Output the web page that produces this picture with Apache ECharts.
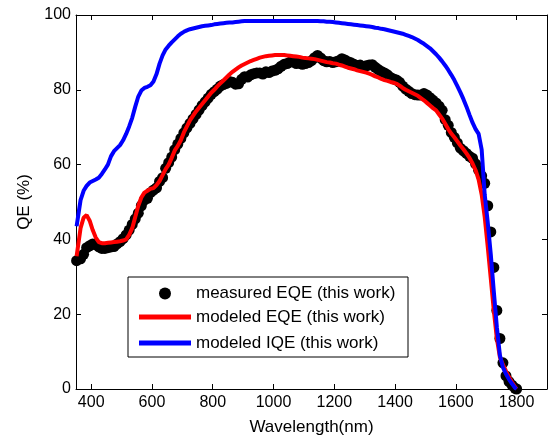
<!DOCTYPE html>
<html>
<head>
<meta charset="utf-8">
<script src="https://cdn.jsdelivr.net/npm/echarts@6/dist/echarts.min.js"></script>
<style>
html,body{margin:0;padding:0;background:#fff;}
#chart{width:548px;height:437px;}
</style>
</head>
<body>
<div id="chart"></div>
<script>
// Wavelength (nm)
var wavelength = [
352,
365,375,385,395,405,415,425,435,445,455,
465,475,485,495,505,515,525,535,545,555,
565,575,585,595,605,615,625,635,645,655,
665,675,685,695,705,715,725,735,745,755,
765,775,785,795,805,815,825,835,845,855,
865,875,885,895,905,915,925,935,945,955,
965,975,985,995,1005,1015,1025,1035,1045,1055,
1065,1075,1085,1095,1105,1115,1125,1135,1145,1155,
1165,1175,1185,1195,1205,1215,1225,1235,1245,1255,
1265,1275,1285,1295,1305,1315,1325,1335,1345,1355,
1365,1375,1385,1395,1405,1415,1425,1435,1445,1455,
1465,1475,1485,1495,1505,1515,1525,1535,1545,1555,
1565,1575,1585,1595,1605,1615,1625,1635,1645,1655,
1665,1675,1685,1695,1705,1715,1725,1735,1745,1755,
1765,1775,1785,1795,
1800
];
// measured EQE (%)
var measuredEQE = [
34.3,
34.8,36.0,37.8,38.3,38.8,38.6,38.0,37.6,37.6,37.8,
38.0,38.1,38.8,39.4,40.2,41.2,42.5,44.0,45.5,47.0,
49.0,50.5,51.0,52.5,53.2,53.8,55.5,56.5,59.0,60.5,
62.0,64.0,65.5,67.0,68.5,69.8,71.0,72.2,73.4,74.6,
75.8,76.8,77.8,78.8,79.5,80.2,81.0,81.4,81.7,82.2,
82.0,81.5,81.6,82.8,83.5,83.4,84.0,84.3,84.5,84.5,
84.2,84.8,84.6,85.0,85.2,85.6,86.3,86.8,87.0,87.4,
87.5,87.0,87.2,86.8,87.0,87.3,87.8,88.6,89.2,88.5,
87.8,87.5,87.6,87.3,87.5,87.8,88.3,88.0,87.5,87.2,
86.8,86.5,86.6,86.2,86.4,86.6,86.7,86.0,85.4,84.9,
84.5,84.0,83.3,82.9,82.6,82.0,81.0,80.2,79.6,79.0,
78.7,78.6,78.6,79.0,78.6,77.9,77.2,76.5,75.6,74.5,
72.0,70.5,68.6,67.3,65.8,64.4,63.7,63.0,62.2,61.7,
60.2,58.5,57.0,55.0,49.0,42.0,32.5,21.0,13.5,7.0,
3.5,2.0,1.0,0.2,
0
];
// modeled EQE (%)
var modeledEQE = [
35.5,
43.0,45.8,46.5,45.0,42.5,40.5,39.3,39.0,39.0,39.1,
39.2,39.3,39.4,39.5,39.7,40.0,41.2,43.0,46.0,49.0,
51.2,52.5,53.0,53.5,53.7,54.5,55.6,57.2,58.8,60.0,
61.8,63.8,65.0,66.5,68.6,70.2,71.8,73.0,74.2,75.2,
76.2,77.2,78.2,79.2,80.0,80.9,81.7,82.5,83.3,84.1,
84.8,85.4,86.0,86.5,86.9,87.3,87.7,88.0,88.3,88.6,
88.8,89.0,89.1,89.2,89.3,89.3,89.3,89.3,89.2,89.1,
89.0,88.9,88.8,88.6,88.5,88.4,88.3,88.2,88.0,87.8,
87.6,87.4,87.3,87.1,87.0,86.7,86.5,86.2,85.9,85.7,
85.5,85.2,85.0,84.8,84.6,84.3,84.0,83.6,83.3,82.9,
82.6,82.4,82.1,81.9,81.6,81.1,80.5,80.0,79.6,79.2,
78.8,78.4,77.8,77.2,76.5,75.8,75.1,74.5,73.4,72.3,
70.9,69.5,68.3,67.3,66.2,65.1,64.1,63.0,61.8,60.3,
58.5,56.0,52.0,46.0,38.0,29.5,21.0,13.5,8.5,6.5,
4.8,3.2,1.8,0.5,
0
];
// modeled IQE (%)
var modeledIQE = [
43.5,
50.5,53.0,54.3,55.2,55.6,56.0,56.5,57.5,58.7,60.0,
62.2,63.6,64.4,65.2,66.5,68.2,70.2,72.5,75.5,78.2,
79.8,80.5,80.8,81.2,82.2,84.2,87.0,89.2,90.8,91.8,
92.7,93.5,94.3,95.0,95.5,95.9,96.2,96.4,96.6,96.8,
97.0,97.1,97.2,97.3,97.5,97.6,97.7,97.8,97.9,98.0,
98.0,98.1,98.2,98.3,98.4,98.4,98.4,98.4,98.4,98.4,
98.4,98.4,98.4,98.4,98.4,98.4,98.4,98.4,98.4,98.4,
98.4,98.4,98.4,98.4,98.4,98.4,98.4,98.4,98.4,98.3,
98.3,98.2,98.2,98.1,98.0,97.9,97.8,97.7,97.6,97.5,
97.4,97.3,97.2,97.1,97.0,96.9,96.8,96.6,96.5,96.3,
96.2,96.0,95.8,95.6,95.4,95.2,95.0,94.7,94.4,94.1,
93.7,93.3,92.8,92.3,91.7,91.1,90.3,89.5,88.6,87.6,
86.5,85.3,84.0,82.6,81.0,79.3,77.5,75.5,73.3,71.2,
69.5,68.2,64.0,52.0,44.5,36.0,26.0,16.5,9.0,5.8,
4.0,2.6,1.4,0.3,
0
];
var xTicks = [400,600,800,1000,1200,1400,1600,1800];
var yTicks = [0,20,40,60,80,100];
var seriesNames = ['measured EQE (this work)','modeled EQE (this work)','modeled IQE (this work)'];

function pairs(xs, ys){ return xs.map(function(x,i){ return [x, ys[i]]; }); }

var FONT = 'Liberation Sans, Arial, sans-serif';
var chart = echarts.init(document.getElementById('chart'), null, {renderer:'canvas'});
var axisLineStyle = {color:'#000', width:1};
var option = {
  animation:false,
  backgroundColor:'#fff',
  grid:{left:76, right:1, top:15, bottom:48, containLabel:false, outerBoundsMode:'none'},
  xAxis:[{
    type:'value', min:350, max:1900, position:'bottom',
    name:'Wavelength(nm)', nameLocation:'middle', nameGap:30,
    nameTextStyle:{color:'#000', fontSize:17, fontFamily:FONT},
    axisLine:{show:true, lineStyle:axisLineStyle},
    axisTick:{show:true, inside:true, length:5, lineStyle:axisLineStyle, customValues:xTicks},
    axisLabel:{color:'#000', fontSize:16, fontFamily:FONT, margin:6, customValues:xTicks,
      formatter:function(v){ return String(v); }},
    splitLine:{show:false}
  },{
    type:'value', min:350, max:1900, position:'top',
    axisLine:{show:true, onZero:false, lineStyle:axisLineStyle},
    axisTick:{show:true, inside:true, length:5, lineStyle:axisLineStyle, customValues:xTicks},
    axisLabel:{show:false},
    splitLine:{show:false}
  }],
  yAxis:[{
    type:'value', min:0, max:100, interval:20, position:'left',
    name:'QE (%)', nameLocation:'middle', nameGap:43, nameRotate:90,
    nameTextStyle:{color:'#000', fontSize:17, fontFamily:FONT},
    axisLine:{show:true, lineStyle:axisLineStyle},
    axisTick:{show:true, inside:true, length:5, lineStyle:axisLineStyle},
    axisLabel:{color:'#000', fontSize:16, fontFamily:FONT, margin:5},
    splitLine:{show:false}
  },{
    type:'value', min:0, max:100, interval:20, position:'right',
    axisLine:{show:true, onZero:false, lineStyle:axisLineStyle},
    axisTick:{show:true, inside:true, length:5, lineStyle:axisLineStyle},
    axisLabel:{show:false},
    splitLine:{show:false}
  }],
  legend:[{
    data:[{name:seriesNames[0], icon:'circle'}],
    left:159, top:285, padding:0, z:10,
    itemWidth:52, itemHeight:12,
    textStyle:{color:'#000', fontSize:17, fontFamily:FONT, lineHeight:16},
    selectedMode:false
  },{
    data:[{name:seriesNames[1], icon:'rect'},{name:seriesNames[2], icon:'rect'}],
    orient:'vertical', left:139, top:308.5, padding:0, itemGap:9, z:10,
    itemWidth:52, itemHeight:5,
    textStyle:{color:'#000', fontSize:17, fontFamily:FONT, lineHeight:16},
    selectedMode:false
  }],
  graphic:[{
    type:'rect', z:8,
    shape:{x:128, y:277, width:280, height:80},
    style:{fill:'#fff', stroke:'#000', lineWidth:1}
  }],
  series:[{
    name:seriesNames[0], type:'scatter', data:pairs(wavelength, measuredEQE),
    symbol:'circle', symbolSize:11, itemStyle:{color:'#000', opacity:1}, z:2, clip:false
  },{
    name:seriesNames[1], type:'line', data:pairs(wavelength, modeledEQE),
    showSymbol:false, symbol:'none', lineStyle:{color:'#ff0000', width:4}, itemStyle:{color:'#ff0000'}, z:3
  },{
    name:seriesNames[2], type:'line', data:pairs(wavelength, modeledIQE),
    showSymbol:false, symbol:'none', lineStyle:{color:'#0000ff', width:4}, itemStyle:{color:'#0000ff'}, z:4
  }]
};
chart.setOption(option);
</script>
</body>
</html>
